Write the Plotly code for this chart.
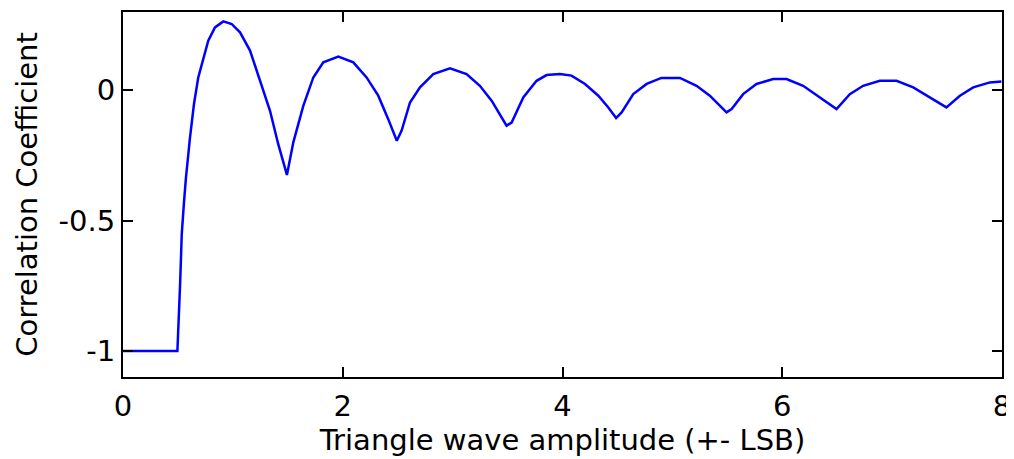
import plotly.graph_objects as go

# Triangle wave amplitude (+- LSB)
amplitude = [0.0, 0.495, 0.52, 0.535, 0.555, 0.573, 0.61, 0.646, 0.685, 0.731, 0.776, 0.837,
             0.913, 0.989, 1.065, 1.156, 1.247, 1.338, 1.413, 1.492,
             1.55, 1.641, 1.732, 1.823, 1.96, 2.096, 2.217, 2.323, 2.414, 2.492,
             2.536, 2.612, 2.703, 2.824, 2.976, 3.127, 3.248, 3.355, 3.491,
             3.537, 3.643, 3.764, 3.855, 3.976, 4.082, 4.205, 4.326, 4.417, 4.488,
             4.538, 4.644, 4.766, 4.9, 5.069, 5.22, 5.341, 5.493,
             5.539, 5.644, 5.766, 5.917, 6.039, 6.19, 6.342, 6.494,
             6.615, 6.736, 6.888, 7.04, 7.192, 7.343, 7.494,
             7.617, 7.738, 7.89, 7.995]
# Correlation coefficient
correlation = [-1.0, -1.0, -0.74, -0.55, -0.43, -0.335, -0.181, -0.053, 0.049, 0.126, 0.19, 0.241,
               0.264, 0.254, 0.222, 0.152, 0.036, -0.079, -0.207, -0.325,
               -0.2, -0.06, 0.049, 0.107, 0.129, 0.107, 0.049, -0.021, -0.111, -0.194,
               -0.155, -0.047, 0.011, 0.062, 0.084, 0.062, 0.017, -0.04, -0.136,
               -0.124, -0.028, 0.036, 0.058, 0.062, 0.056, 0.024, -0.021, -0.066, -0.107,
               -0.085, -0.015, 0.024, 0.047, 0.047, 0.017, -0.021, -0.085,
               -0.072, -0.015, 0.024, 0.043, 0.043, 0.017, -0.028, -0.072,
               -0.015, 0.017, 0.036, 0.036, 0.011, -0.028, -0.066,
               -0.021, 0.011, 0.03, 0.033]

x_ticks = [0, 2, 4, 6, 8]
y_ticks = [-1, -0.5, 0]
y_tick_labels = ["-1", "-0.5", "0"]

fig = go.Figure()
fig.add_trace(go.Scatter(x=amplitude, y=correlation, mode="lines",
                         line=dict(color="#0000FF", width=2.5)))

font = dict(family="DejaVu Sans, Liberation Sans, Arial, sans-serif", size=29, color="black")
axis_common = dict(showline=True, linecolor="black", linewidth=2, mirror="ticks",
                   ticks="inside", ticklen=10, tickwidth=2, tickcolor="black",
                   showgrid=False, zeroline=False, tickfont=font, automargin=False)

# the page body adds an 8px offset, so the figure is sized and margined to compensate
fig.update_layout(
    width=1014, height=451,
    margin=dict(l=115, r=20, t=4, b=82),
    paper_bgcolor="white", plot_bgcolor="white",
    showlegend=False,
    font=font,
    xaxis=dict(range=[0, 8], tickvals=x_ticks, ticktext=[str(v) for v in x_ticks],
               ticklabelstandoff=2,
               title=dict(text="Triangle wave amplitude (+- LSB)", font=font, standoff=2),
               **axis_common),
    yaxis=dict(range=[-1.1, 0.3], tickvals=y_ticks, ticktext=y_tick_labels,
               title=dict(text="Correlation Coefficient", font=font, standoff=12),
               **axis_common),
)

fig.write_html("out.html")
